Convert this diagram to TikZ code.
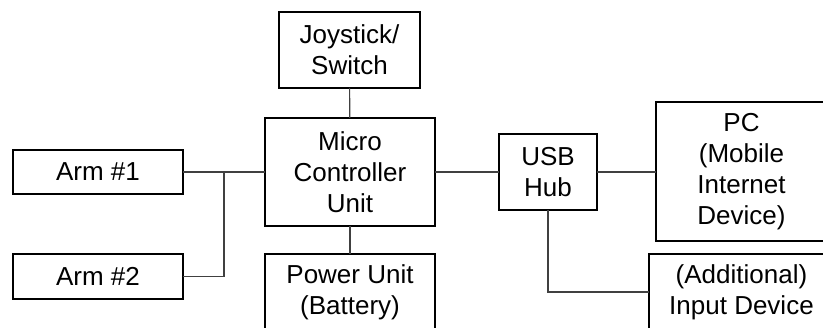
\documentclass[tikz,border=0pt]{standalone}
\usepackage{fontspec}
\setmainfont{Liberation Sans}
\begin{document}
\begin{tikzpicture}[x=1pt, y=-1pt,
    caja/.style={draw, line width=2pt, inner sep=0pt, outer sep=0pt, align=center,
                 font=\fontsize{26}{31}\selectfont},
    linea/.style={line width=1.1pt, black!75}]
                        % Marco de la figura
                        \clip (0,0) rectangle (823,328);
                        \fill[white] (0,0) rectangle (823,328);

                        % Bloques centrales
                        \node[caja, minimum width=141pt, minimum height=76pt] (joy) at (349.5,50) {Joystick/\\Switch};
                        \node[caja, minimum width=170pt, minimum height=108pt] (mcu) at (350,172) {Micro\\Controller\\Unit};
                        \node[caja, minimum width=170pt, minimum height=76pt] (power) at (350,292) {Power Unit\\(Battery)};

                        % Brazos
                        \node[caja, minimum width=170pt, minimum height=44pt] (arm1) at (98,172) {Arm \#1};
                        \node[caja, minimum width=170pt, minimum height=45pt] (arm2) at (98,276.5) {Arm \#2};

                        % Lado derecho
                        \node[caja, minimum width=98pt, minimum height=76pt] (usb) at (548,172) {USB\\Hub};
                        \node[caja, minimum width=171pt, minimum height=139pt] (pc) at (741.5,171.5) {PC\\(Mobile\\Internet\\Device)};
                        \node[caja, minimum width=185pt, minimum height=76pt] (add) at (741.5,292) {(Additional)\\Input Device};

                        % Conexiones
                        \coordinate (junta) at (224,172);
                        \draw[linea] (joy) -- (mcu);
                        \draw[linea] (mcu) -- (power);
                        \draw[linea] (arm1) -- (mcu);
                        \draw[linea] (arm2.east) -| (junta);
                        \draw[linea] (mcu) -- (usb);
                        \draw[linea] (usb) -- (pc.west |- usb);
                        \draw[linea] (usb.south) |- (add.west);
                    \end{tikzpicture}
\end{document}
